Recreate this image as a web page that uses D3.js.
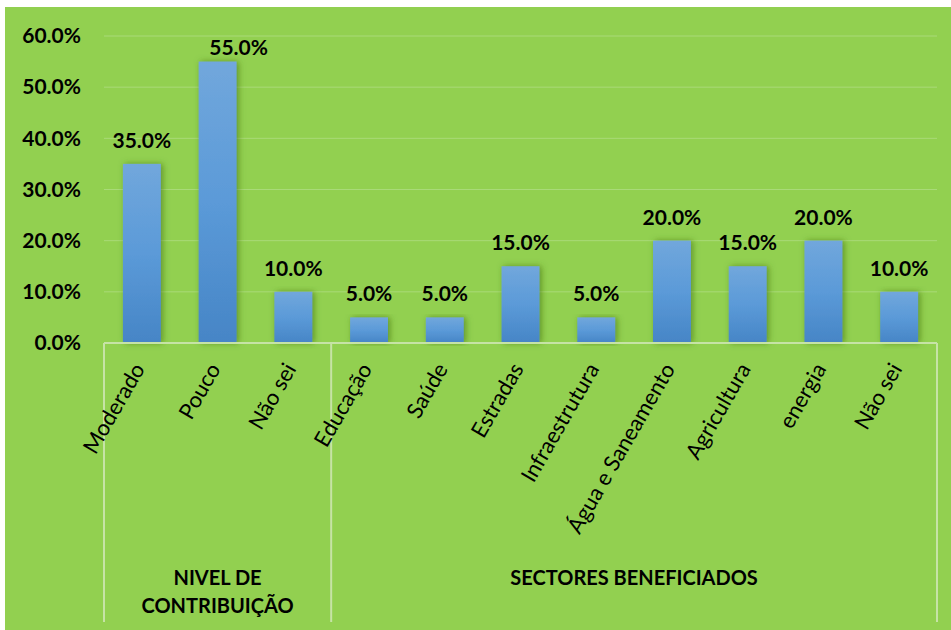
<!DOCTYPE html>
<html>
<head>
<meta charset="utf-8">
<script src="https://cdn.jsdelivr.net/npm/d3@7"></script>
<style>
  body { margin: 0; background: #fff; }
  svg { display: block; font-family: Lato, "Open Sans", sans-serif; }
</style>
</head>
<body>
<svg width="951" height="630"></svg>
<script>
"use strict";

// data
const categories = ["Moderado", "Pouco", "Não sei", "Educação", "Saúde", "Estradas",
    "Infraestrutura", "Água e Saneamento", "Agricultura", "energia", "Não sei "];
const values = [35, 55, 10, 5, 5, 15, 5, 20, 15, 20, 10];
const groups = [
    { lines: ["NIVEL DE", "CONTRIBUIÇÃO"], from: 0, to: 2 },
    { lines: ["SECTORES BENEFICIADOS"], from: 3, to: 10 }
];
const yTicks = [0, 10, 20, 30, 40, 50, 60];

const plotLeft = 104, plotRight = 937, plotTop = 36, base = 343, plotBottom = 622;

const svg = d3.select("svg");

const defs = svg.append("defs");
const grad = defs.append("linearGradient")
    .attr("id", "barGrad").attr("x1", 0).attr("y1", 0).attr("x2", 0).attr("y2", 1);
grad.append("stop").attr("offset", "0%").attr("stop-color", "#71a7dc");
grad.append("stop").attr("offset", "50%").attr("stop-color", "#5b9ad8");
grad.append("stop").attr("offset", "100%").attr("stop-color", "#4685c6");

const shadow = defs.append("filter").attr("id", "shadow")
    .attr("x", "-30%").attr("y", "-10%").attr("width", "160%").attr("height", "120%");
shadow.append("feDropShadow")
    .attr("dx", 2).attr("dy", 0).attr("stdDeviation", 3)
    .attr("flood-color", "#3d6b12").attr("flood-opacity", 0.6);

// background
svg.append("rect")
    .attr("x", 5).attr("y", 7).attr("width", 946).attr("height", 623)
    .attr("fill", "#92d050");

const x = d3.scaleBand()
    .domain(categories)
    .range([plotLeft, plotRight])
    .paddingInner(0.5)
    .paddingOuter(0.25);

const y = d3.scaleLinear()
    .domain([0, 60])
    .range([base, plotTop]);

// gridlines
svg.append("g")
    .selectAll("line")
    .data(yTicks.slice(1))
    .join("line")
    .attr("x1", plotLeft).attr("x2", plotRight)
    .attr("y1", d => y(d)).attr("y2", d => y(d))
    .attr("stroke", "#a9da78").attr("stroke-width", 1);

// y axis labels
const yAxis = d3.axisLeft(y)
    .tickValues(yTicks)
    .tickSize(0)
    .tickPadding(0)
    .tickFormat(d => d.toFixed(1) + "%");
const ya = svg.append("g").attr("transform", `translate(81,0)`).call(yAxis);
ya.select(".domain").remove();
ya.selectAll("text")
    .attr("font-size", 21).attr("font-weight", 700).attr("fill", "#000")
    .attr("font-family", "Lato, sans-serif");

// bars
svg.append("g")
    .selectAll("rect")
    .data(values)
    .join("rect")
    .attr("x", (d, i) => x(categories[i]))
    .attr("y", d => y(d))
    .attr("width", x.bandwidth())
    .attr("height", d => base - y(d))
    .attr("fill", "url(#barGrad)")
    .attr("filter", "url(#shadow)");

// value labels; a label that would leave the plot is nudged to the bar's top right
const tooHigh = d => y(d) - 32 < plotTop;
svg.append("g")
    .selectAll("text")
    .data(values)
    .join("text")
    .attr("x", (d, i) => x(categories[i]) + x.bandwidth() / 2 + (tooHigh(d) ? 21 : 0))
    .attr("y", d => y(d) - (tooHigh(d) ? 7 : 16))
    .attr("text-anchor", "middle")
    .attr("font-size", 21).attr("font-weight", 700)
    .text(d => d.toFixed(1) + "%");

// separators (category axis box)
const step = x.step();
const sep = svg.append("g").attr("stroke", "#c6e3a6").attr("stroke-width", 2);
sep.append("line").attr("x1", plotLeft).attr("x2", plotRight).attr("y1", base).attr("y2", base);
const edges = [plotLeft].concat(groups.map(g => plotLeft + (g.to + 1) * step));
sep.selectAll("line.v")
    .data(edges)
    .join("line")
    .attr("class", "v")
    .attr("x1", d => d).attr("x2", d => d)
    .attr("y1", base).attr("y2", plotBottom);

// category labels
svg.append("g")
    .selectAll("text")
    .data(categories)
    .join("text")
    .attr("transform", d => `translate(${x(d) + x.bandwidth() / 2 - 3},${base + 22}) rotate(-60)`)
    .attr("text-anchor", "end")
    .attr("dy", "0.35em")
    .attr("font-size", 22)
    .text(d => d.trim());

// group labels
groups.forEach(g => {
    const cx = plotLeft + ((g.from + g.to + 1) / 2) * step;
    const t = svg.append("text")
        .attr("text-anchor", "middle")
        .attr("font-size", 20).attr("font-weight", 700);
    g.lines.forEach((line, i) => {
        t.append("tspan").attr("x", cx).attr("y", 585 + i * 28).text(line);
    });
});
</script>
</body>
</html>
